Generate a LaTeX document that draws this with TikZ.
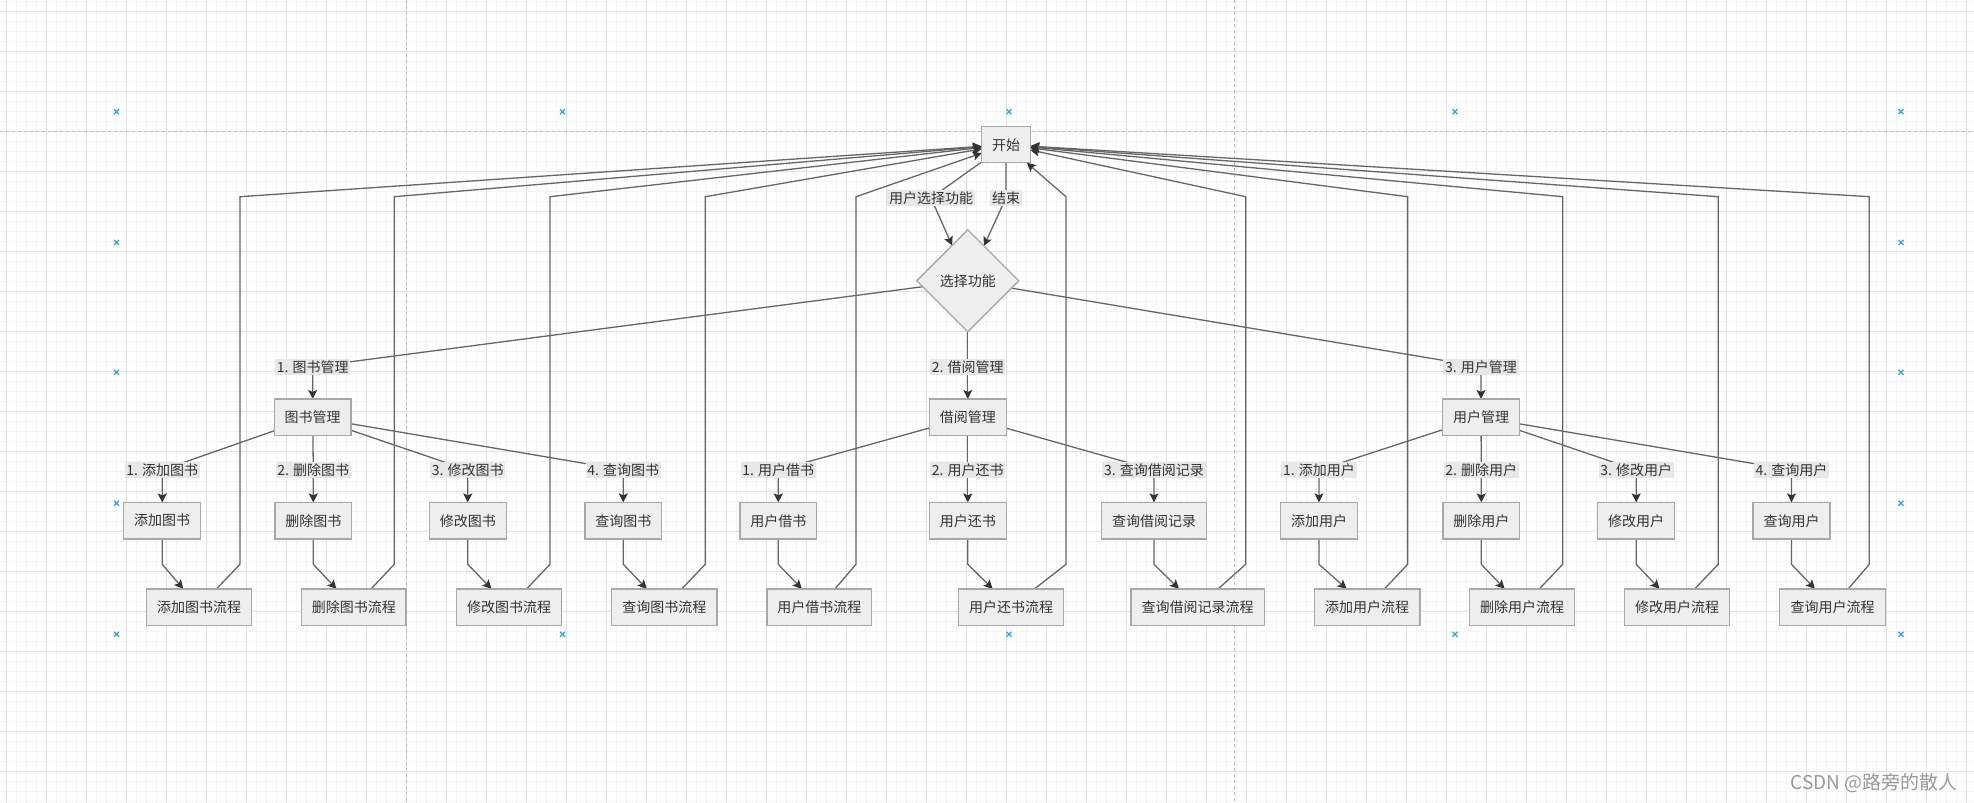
\documentclass[tikz,border=0pt]{standalone}
\usepackage{fontspec}
\newfontfamily\cjk{Noto Sans CJK SC}
\usetikzlibrary{arrows.meta,shapes.geometric}
\definecolor{gridmajor}{HTML}{E2E2E2}
\definecolor{gridminor}{HTML}{F4F4F4}
\definecolor{pagebrk}{HTML}{BBBBBB}
\definecolor{handle}{HTML}{29A8E0}
\definecolor{boxfill}{HTML}{EEEEEE}
\definecolor{boxline}{HTML}{A8A8A8}
\definecolor{edgec}{HTML}{666666}
\definecolor{arrowc}{HTML}{333333}
\definecolor{textc}{HTML}{333333}
\definecolor{lblfill}{HTML}{E8E8E8}
\definecolor{wmark}{HTML}{999999}
\pgfdeclarelayer{bg}
\pgfdeclarelayer{edges}
\pgfsetlayers{bg,edges,main}
\begin{document}
\begin{tikzpicture}[x=1pt,y=-1pt,
  txt/.style={font=\cjk\fontsize{14}{16}\selectfont, text=textc},
  box/.style={txt, draw=boxline, fill=boxfill, line width=1.3pt, minimum height=36.7pt, inner sep=0pt, outer sep=0pt},
  diam/.style={txt, diamond, aspect=1, draw=boxline, fill=boxfill, line width=1.3pt, minimum width=102pt, minimum height=102pt, inner sep=0pt, outer sep=0pt},
  lbl/.style={txt, fill=lblfill, inner sep=1.6pt, outer sep=0pt},
  conn/.style={draw=edgec, line width=1.3pt},
  arr/.style={conn, -{Stealth[length=9pt,width=9pt,inset=2pt,color=arrowc]}},
  gmin/.style={draw=gridminor, line width=0.8pt},
  gmaj/.style={draw=gridmajor, line width=0.9pt},
  pbrk/.style={draw=pagebrk, line width=0.8pt, dash pattern=on 3pt off 3pt},
  hmark/.style={draw=handle, line width=1.2pt}
]
\useasboundingbox (0,0) rectangle (1974,803);
\begin{pgfonlayer}{bg}
  \fill[white] (0,0) rectangle (1974,803);
  \foreach \k in {0,...,197} \draw[gmin] ({\k*10-3.3},0) -- ({\k*10-3.3},803);
  \foreach \k in {0,...,80} \draw[gmin] (0,{\k*10+1.7}) -- (1974,{\k*10+1.7});
  \foreach \k in {0,...,49} \draw[gmaj] ({\k*40+6.7},0) -- ({\k*40+6.7},803);
  \foreach \k in {0,...,20} \draw[gmaj] (0,{\k*40+11.7}) -- (1974,{\k*40+11.7});
  \draw[pbrk] (406.7,0) -- (406.7,803);
  \draw[pbrk] (1234,0) -- (1234,803);
  \draw[pbrk] (0,131.5) -- (1974,131.5);
\end{pgfonlayer}

% selection handles
\foreach \hx in {116.5,562.5,1009,1455,1901}
  \foreach \hy in {111.7,634.3}
    \draw[hmark] (\hx-2.5,\hy-2.5) -- (\hx+2.5,\hy+2.5) (\hx-2.5,\hy+2.5) -- (\hx+2.5,\hy-2.5);
\foreach \hx in {116.5,1901}
  \foreach \hy in {242.5,372.3,503.3}
    \draw[hmark] (\hx-2.5,\hy-2.5) -- (\hx+2.5,\hy+2.5) (\hx-2.5,\hy+2.5) -- (\hx+2.5,\hy-2.5);

% top
\node[box, minimum width=48.6pt, minimum height=36pt] (start) at (1006,144.7) {开始};
\node[diam] (choose) at (967.8,280.8) {选择功能};
\node[lbl] (lsel) at (931,198) {用户选择功能};
\node[lbl] (lend) at (1006,198) {结束};
\begin{pgfonlayer}{edges}
  \draw[arr] (start) -- (lsel.center) -- (choose);
  \draw[arr] (start) -- (lend.center) -- (choose);
\end{pgfonlayer}

% level 2
\foreach \n/\x/\lt/\bt in {bm/312.7/{1. 图书管理}/图书管理, rm/967.8/{2. 借阅管理}/借阅管理, um/1481/{3. 用户管理}/用户管理}{
  \node[lbl] (L\n) at (\x,366.7) {\lt};
  \node[box, minimum width=76.7pt] (\n) at (\x,417.3) {\bt};
  \begin{pgfonlayer}{edges}
    \draw[arr] (choose) -- (L\n.center) -- (\n);
  \end{pgfonlayer}
}

% leaves
\foreach \n/\p/\bx/\bw/\fx/\fw/\rx/\lt/\bt in {
  ab/bm/162.2/77/199/105.4/240/{1. 添加图书}/添加图书,
  db/bm/313.3/76.7/353.8/104.4/394.3/{2. 删除图书}/删除图书,
  mb/bm/467.8/77/509.2/105/550/{3. 修改图书}/修改图书,
  qb/bm/623.3/76.7/664.3/105.3/705.3/{4. 查询图书}/查询图书,
  ub/rm/778.3/76.7/819.3/104.7/856/{1. 用户借书}/用户借书,
  ur/rm/967.8/77/1011.2/105/1066/{2. 用户还书}/用户还书,
  qr/rm/1154/105.3/1197.7/133.3/1245.7/{3. 查询借阅记录}/查询借阅记录,
  au/um/1319/76.7/1367.2/105.7/1407.7/{1. 添加用户}/添加用户,
  du/um/1481.3/76.7/1522/104.6/1562.7/{2. 删除用户}/删除用户,
  mu/um/1636.2/77/1677/105.4/1718.3/{3. 修改用户}/修改用户,
  qu/um/1791.5/77/1832.5/106.4/1869.3/{4. 查询用户}/查询用户}{
  \node[lbl] (L\n) at (\bx,470) {\lt};
  \node[box, minimum width=\bw pt] (B\n) at (\bx,520.7) {\bt};
  \node[box, minimum width=\fw pt] (F\n) at (\fx,607.2) {\bt 流程};
  \begin{pgfonlayer}{edges}
    \draw[arr] (\p) -- (L\n.center) -- (B\n);
    \draw[arr] (B\n) -- (\bx,564.3) -- (F\n);
    \draw[arr] (F\n) -- (\rx,564.3) -- (\rx,196.7) -- (start);
  \end{pgfonlayer}
}

% watermark
\node[font=\cjk\fontsize{19}{22}\selectfont, text=wmark, anchor=east, inner sep=0pt] (wm) at (1958,783) {CSDN @路旁的散人};
\end{tikzpicture}
\end{document}
